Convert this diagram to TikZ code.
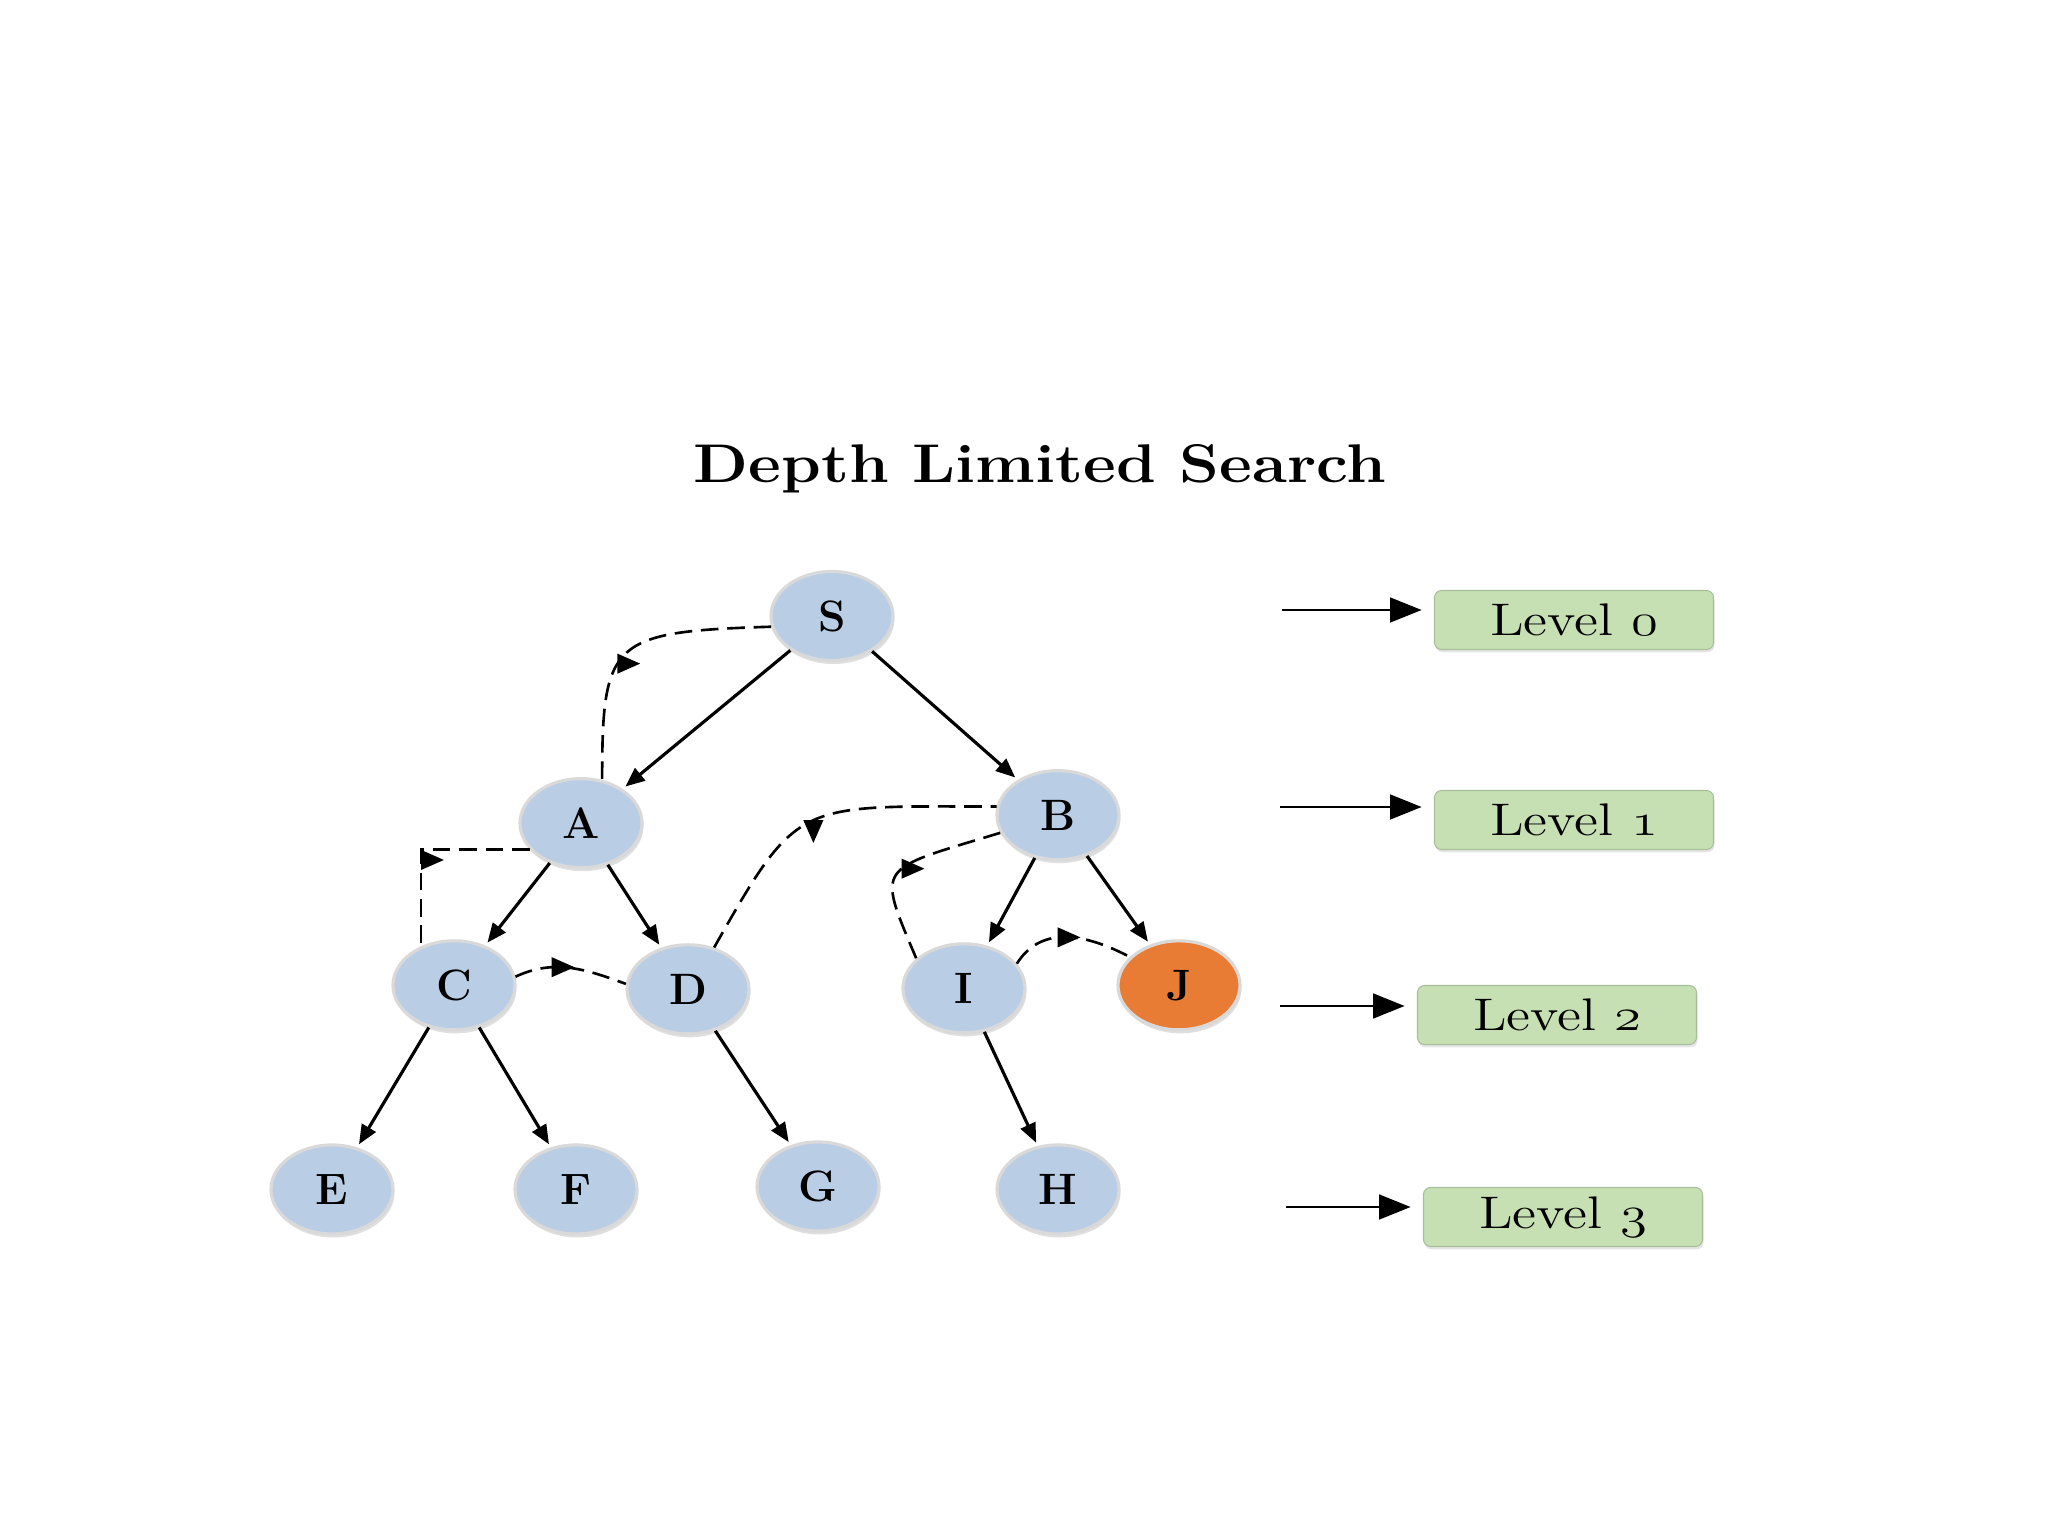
\documentclass[tikz,border=0pt]{standalone}
\usepackage{fix-cm}
\usepackage{xcolor}
\usepackage{tikz}
\usetikzlibrary{arrows.meta,positioning,shapes.geometric,shadows,decorations.markings}

\definecolor{nodeblue}{RGB}{185,205,229}
\definecolor{goalorange}{RGB}{233,124,52}
\definecolor{levgreen}{RGB}{198,224,180}
\newcommand{\lvl}[1]{\scalebox{1.2}[1]{Level $\mathnormal{#1}$}}

\begin{document}
\begin{tikzpicture}[
  state/.style     = {ellipse, fill=#1, draw=black!15, line width=0.9pt,
                      minimum width=1.22cm, minimum height=0.89cm, inner sep=0pt,
                      font=\fontsize{12.5}{15}\selectfont\bfseries,
                      drop shadow={shadow xshift=0.4pt, shadow yshift=-1pt,
                                   opacity=0.25}},
  state/.default   = nodeblue,
  treearrow/.style = {-{Triangle[length=5.5pt,width=4.5pt]}, line width=0.9pt,
                      shorten >=1pt},
  backtrack/.style = {dash pattern=on 5pt off 2.5pt, line width=0.75pt},
  midtip/.style 2 args = {postaction={decorate, decoration={markings,
      mark=at position #1 with {\pgftransformresetnontranslations
        \pgftransformrotate{#2}\pgftransformxshift{6.5pt}
        \arrow{Triangle[length=6.5pt,width=5.5pt]}}}}},
  levbox/.style    = {rectangle, rounded corners=2pt, fill=levgreen,
                      draw=levgreen!85!black, line width=0.3pt,
                      minimum width=2.79cm, minimum height=0.59cm, inner sep=0pt,
                      font=\fontsize{13}{15}\selectfont,
                      drop shadow={shadow xshift=0.3pt, shadow yshift=-0.8pt,
                                   opacity=0.2}},
  levarrow/.style  = {-{Triangle[length=9pt,width=7pt]}, line width=0.85pt,
                      shorten >=3.5pt}
]

\path[use as bounding box, fill=white] (0,0) rectangle (20.48,-15.36);

%% ─── Title ──────────────────────────────────────────────────────
\node[font=\fontsize{15.5}{18}\selectfont\bfseries, anchor=base] (title)
  at (10.40,-4.83) {\scalebox{1.17}[1]{Depth Limited Search}};

%% ─── Tree ───────────────────────────────────────────────────────
\node[state] (S) at (8.32,-6.16) {S};

\node[state, below=1.15cm of S, xshift=-2.51cm] (A) {A};
\node[state, below=1.07cm of S, xshift=2.26cm]  (B) {B};

\node[state, below=0.70cm of A, xshift=-1.27cm] (C) {C};
\node[state, below=0.74cm of A, xshift=1.07cm]  (D) {D};
\node[state, below=0.81cm of B, xshift=-0.94cm] (I) {I};
\node[state=goalorange, below=0.78cm of B, xshift=1.21cm] (J) {J};

\node[state, below=1.12cm of C, xshift=-1.22cm] (E) {E};
\node[state, below=1.12cm of C, xshift=1.22cm]  (F) {F};
\node[state, below=1.05cm of D, xshift=1.30cm]  (G) {G};
\node[state, below=1.09cm of I, xshift=0.94cm]  (H) {H};

%% ─── Tree edges ─────────────────────────────────────────────────
\draw[treearrow] (S) -- (A);
\draw[treearrow] (S) -- (B);
\draw[treearrow] (A) -- (C);
\draw[treearrow] (A) -- (D);
\draw[treearrow] (B) -- (I);
\draw[treearrow] (B) -- (J);
\draw[treearrow] (C) -- (E);
\draw[treearrow] (C) -- (F);
\draw[treearrow] (D) -- (G);
\draw[treearrow] (I) -- (H);

%% ─── Search order (dashed) ──────────────────────────────────────
\draw[backtrack, midtip={0.58}{0}]
  (S.190) .. controls +(-1.6,-0.05) and +(0,1.4) .. (A.64);
\draw[backtrack, midtip={0.58}{0}] (A.207) -| (C.130);
\draw[backtrack, midtip={0.33}{0}] (C.8) to[out=25, in=160] (D.175);
\draw[backtrack, midtip={0.47}{-90}]
  (D.58) .. controls +(0.85,1.5) and +(-2.0,0) .. (B.172);
\draw[backtrack, midtip={0.52}{0}]
  (B.197) .. controls +(-1.25,-0.38) and +(-0.4,0.95) .. (I.148);
\draw[backtrack, midtip={0.4}{0}]
  (I.25) .. controls +(0.25,0.40) and +(-0.42,0.22) .. (J.150);

%% ─── Levels ─────────────────────────────────────────────────────
\node[levbox] (lev0) at (15.74,-6.20)  {\lvl{0}};
\node[levbox] (lev1) at (15.74,-8.20)  {\lvl{1}};
\node[levbox] (lev2) at (15.57,-10.15) {\lvl{2}};
\node[levbox] (lev3) at (15.63,-12.17) {\lvl{3}};

\coordinate (p0) at (12.82,-6.10);
\coordinate (p1) at (12.80,-8.07);
\coordinate (p2) at (12.80,-10.06);
\coordinate (p3) at (12.86,-12.07);

\draw[levarrow] (p0) -- (p0 -| lev0.west);
\draw[levarrow] (p1) -- (p1 -| lev1.west);
\draw[levarrow] (p2) -- (p2 -| lev2.west);
\draw[levarrow] (p3) -- (p3 -| lev3.west);

\end{tikzpicture}
\end{document}
